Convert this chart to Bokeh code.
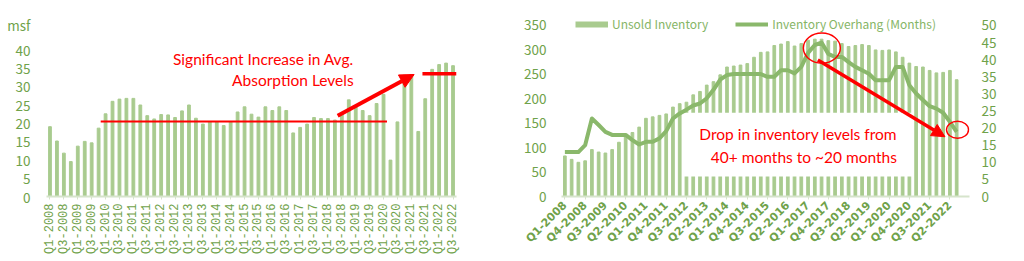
import math
from bokeh.plotting import figure
from bokeh.layouts import row
from bokeh.models import (Range1d, LinearAxis, FixedTicker, Label,
                          Arrow, NormalHead, Legend, LegendItem)
from bokeh.embed import file_html
from bokeh.resources import INLINE

# ---------------- data ----------------
quarters = [f"Q{q}-{y}" for y in range(2008, 2023) for q in (1, 2, 3, 4)][:59]

absorption_msf = [19.0, 15.1, 11.8, 9.5, 13.7, 15.0, 14.6, 18.6, 22.5, 25.9,
                  26.5, 26.7, 26.7, 24.9, 22.0, 21.1, 22.3, 22.2, 21.5, 23.3,
                  24.9, 21.3, 19.7, 20.3, 20.3, 19.3, 20.3, 23.0, 24.4, 22.4,
                  21.6, 24.4, 23.4, 24.4, 23.4, 17.3, 18.8, 19.7, 21.5, 21.2,
                  21.2, 20.8, 22.6, 26.3, 24.3, 23.4, 22.0, 25.3, 27.8, 9.9,
                  20.3, 33.0, 33.2, 17.7, 26.6, 34.6, 35.9, 36.3, 35.6]
avg_before = 20.4
avg_after = 33.4

unsold_inventory = [83, 76, 70, 73, 96, 91, 89, 96, 111, 122,
                    131, 142, 160, 163, 166, 169, 183, 190, 193, 208,
                    215, 228, 235, 249, 265, 267, 269, 272, 285, 295,
                    296, 309, 312, 317, 308, 313, 320, 322, 322, 319,
                    318, 313, 307, 309, 311, 309, 300, 299, 300, 296,
                    285, 273, 266, 265, 258, 253, 254, 258, 239]

overhang_months = [13.0, 13.0, 13.0, 15.0, 22.8, 20.9, 18.9, 18.0, 18.0, 18.0,
                   16.5, 15.2, 16.0, 16.0, 17.0, 19.1, 22.8, 24.3, 25.4, 26.6,
                   27.2, 28.7, 31.2, 34.2, 35.5, 35.8, 35.8, 35.8, 35.8, 35.8,
                   35.0, 35.0, 36.9, 36.9, 36.0, 37.9, 42.0, 44.3, 45.0, 41.7,
                   40.8, 40.8, 39.3, 37.9, 36.9, 35.9, 34.0, 34.0, 34.0, 37.9,
                   37.9, 32.5, 30.1, 28.2, 26.4, 25.7, 24.5, 21.8, 18.9]

left_tick_values = [0, 5, 10, 15, 20, 25, 30, 35, 40]
left_unit_label = "msf"
inv_tick_values = [0, 50, 100, 150, 200, 250, 300, 350]
months_tick_values = [0, 5, 10, 15, 20, 25, 30, 35, 40, 45, 50]

# ---------------- styles ----------------
BAR = "#a9cb8f"
LINE = "#8ab86b"
TXT = "#6fa24a"
LEG_TXT = "#86b566"
AXIS = "#d6e4cb"
RED = "#ff0000"
TICK_FONT = "Noto Sans CJK JP"
ANN_FONT = "Lato"
ANN_SIZE = "15.5px"
TOP, BOTTOM = 12, 65

pos = list(range(len(quarters)))


def style(p):
    p.outline_line_color = None
    p.xgrid.visible = False
    p.ygrid.visible = False
    p.background_fill_color = "white"
    p.border_fill_color = "white"


def style_x(ax, step, angle, font, size, bold):
    ax.ticker = FixedTicker(ticks=pos[::step])
    ax.major_label_overrides = {i: quarters[i] for i in pos[::step]}
    ax.major_label_orientation = angle
    ax.major_label_text_font = font
    ax.major_label_text_font_size = size
    if bold:
        ax.major_label_text_font_style = "bold"
    ax.major_label_text_color = TXT
    ax.axis_line_color = AXIS
    ax.axis_line_width = 2
    ax.major_tick_line_color = AXIS
    ax.major_tick_out = 3
    ax.major_tick_in = 0
    ax.minor_tick_line_color = None
    ax.major_label_standoff = 4


def style_y(ax, ticks, standoff):
    ax.ticker = FixedTicker(ticks=ticks)
    ax.axis_line_color = None
    ax.major_tick_line_color = None
    ax.minor_tick_line_color = None
    ax.major_label_text_font = TICK_FONT
    ax.major_label_text_font_size = "13.5px"
    ax.major_label_text_color = TXT
    ax.major_label_standoff = standoff


# ---------------- left chart ----------------
p1 = figure(width=510, height=261, x_range=Range1d(-0.5, 58.5),
            y_range=Range1d(0, 50.07), output_backend="svg", toolbar_location=None,
            min_border_left=46, min_border_right=54, min_border_top=TOP, min_border_bottom=BOTTOM)
style(p1)
p1.vbar(x=pos, top=absorption_msf, width=0.4, color=BAR)
style_x(p1.xaxis[0], 2, math.pi / 2, "Liberation Mono", "12px", False)
# unit label "msf" sits above the 40 tick, like the reference
style_y(p1.yaxis[0], left_tick_values + [46.8], 10)
p1.yaxis[0].major_label_overrides = {46.8: left_unit_label}

p1.segment(x0=[7.3], x1=[48.5], y0=[avg_before], y1=[avg_before], line_color=RED, line_width=2)
p1.segment(x0=[53.6], x1=[58.5], y0=[avg_after], y1=[avg_after], line_color=RED, line_width=3.5)
p1.add_layout(Arrow(x_start=41.4, y_start=22.0, x_end=52.4, y_end=33.2,
                    line_color=RED, line_width=4,
                    end=NormalHead(size=14, fill_color=RED, line_color=RED)))
p1.add_layout(Label(x=43.7, y=37.55, text="Significant Increase in Avg.", text_align="right",
                    text_baseline="middle", text_color=RED, text_font=ANN_FONT, text_font_size=ANN_SIZE))
p1.add_layout(Label(x=43.7, y=31.6, text="Absorption Levels", text_align="right",
                    text_baseline="middle", text_color=RED, text_font=ANN_FONT, text_font_size=ANN_SIZE))

# ---------------- right chart ----------------
INV_END = 376.6
p2 = figure(width=514, height=261, x_range=Range1d(-0.5, 59.9),
            y_range=Range1d(0, INV_END), output_backend="svg", toolbar_location=None,
            min_border_left=51, min_border_right=55, min_border_top=TOP, min_border_bottom=BOTTOM)
style(p2)
p2.extra_y_ranges = {"months": Range1d(0, INV_END / 7)}

p2.vbar(x=pos, top=unsold_inventory, width=0.4, color=BAR)
# white text box of the annotation covering the bars
p2.quad(left=[17.36], right=[51.4], bottom=[40.8], top=[171.2], fill_color="white", line_color=None)
line = p2.line(x=pos, y=overhang_months, y_range_name="months", line_color=LINE,
               line_width=4, line_join="round")
# legend proxy for the bars (draws nothing in the plot)
bar_swatch = p2.line(x=[0], y=[float("nan")], line_color=BAR, line_width=6)

style_x(p2.xaxis[0], 3, math.pi / 4, "DejaVu Sans", "11px", True)
style_y(p2.yaxis[0], inv_tick_values, 9)

yr = LinearAxis(y_range_name="months")
style_y(yr, months_tick_values, 6)
p2.add_layout(yr, "right")

legend = Legend(items=[LegendItem(label="Unsold Inventory", renderers=[bar_swatch]),
                       LegendItem(label="Inventory Overhang (Months)", renderers=[line])],
                orientation="horizontal", location=(14, 164), padding=0, margin=0,
                spacing=27, glyph_width=33, glyph_height=12, label_standoff=4,
                label_text_font=TICK_FONT, label_text_font_size="12px",
                label_text_color=LEG_TXT, border_line_color=None,
                background_fill_alpha=0, label_height=14)
p2.add_layout(legend)

p2.ellipse(x=[38.04], y=[303.7], width=37, height=30, width_units="screen",
           height_units="screen", fill_color=None, line_color=RED, line_width=1.5)
p2.ellipse(x=[58.13], y=[136.6], width=22, height=17, width_units="screen",
           height_units="screen", fill_color=None, line_color=RED, line_width=1.5)
p2.add_layout(Arrow(x_start=37.45, y_start=279.3, x_end=56.27, y_end=122.3,
                    line_color=RED, line_width=3.5,
                    end=NormalHead(size=13, fill_color=RED, line_color=RED)))
p2.add_layout(Label(x=49.16, y=128.4, text="Drop in inventory levels from", text_align="right",
                    text_baseline="middle", text_color=RED, text_font=ANN_FONT, text_font_size=ANN_SIZE))
p2.add_layout(Label(x=49.16, y=81.5, text="40+ months to ~20 months", text_align="right",
                    text_baseline="middle", text_color=RED, text_font=ANN_FONT, text_font_size=ANN_SIZE))

layout = row(p1, p2)
open("out.html", "w").write(file_html(layout, INLINE))
